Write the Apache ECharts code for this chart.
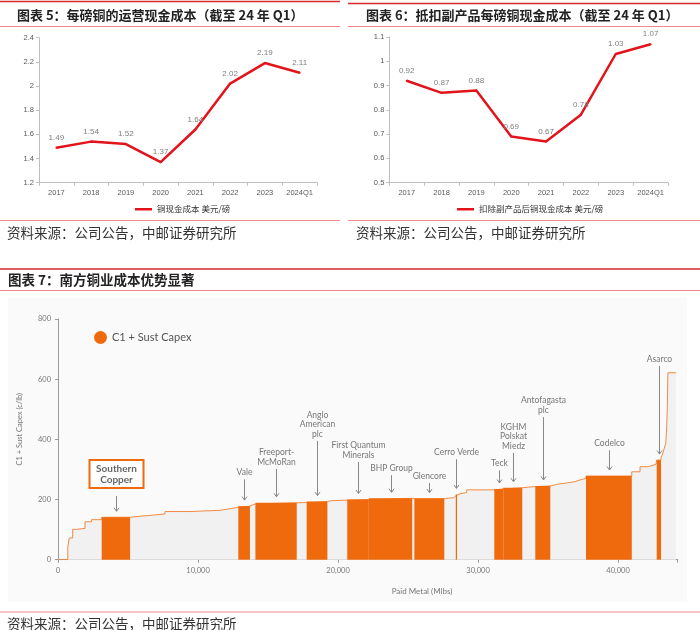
<!DOCTYPE html>
<html><head><meta charset="utf-8">
<script src="https://cdn.jsdelivr.net/npm/echarts@6/dist/echarts.min.js"></script>
<style>html,body{margin:0;padding:0;background:#fff}#c{width:700px;height:630px}</style>
</head><body><div id="c"></div>
<script>
// ---- data ----
const years = ['2017','2018','2019','2020','2021','2022','2023','2024Q1'];
const cashCost = [1.49,1.54,1.52,1.37,1.64,2.02,2.19,2.11];
const netCashCost = [0.92,0.87,0.88,0.69,0.67,0.78,1.03,1.07];
const cashTicks = [1.2,1.4,1.6,1.8,2,2.2,2.4];
const netTicks = [0.5,0.6,0.7,0.8,0.9,1,1.1];

// cost curve: cumulative paid metal (Mlbs) where each step starts, and its cost (c/lb)
const curveX = [0,700,800,1050,1350,1930,2400,3120,5150,6000,6800,7640,9430,10500,11570,11800,12520,12880,13710,13900,14100,17050,17760,19240,19500,20660,22200,25300,25450,27590,28240,28410,28500,28710,29190,31160,31800,33160,33600,34090,35160,35700,36330,36900,37290,37710,40980,41570,42160,42500,42710,42760,43070,43160,43300,43410,43480,43520,43560,44140];
const curveY = [0,41,72,101,104,126,133,141,145,148,152,160,162,164,166,171,174,178,182,185,189,190,193,196,198,200,204,203,203,206,212,217,219,223,232,235,239,241,243,245,251,255,259,265,270,278,292,309,314,317,320,331,340,348,370,387,450,508,621,621];

const companies = ['Southern\nCopper','Vale','Freeport-\nMcMoRan','Anglo\nAmerican\nplc','First Quantum\nMinerals','BHP Group','Glencore','Cerro Verde','Teck','KGHM\nPolskat\nMiedz','Antofagasta\nplc','Codelco','Asarco'];
const blockStart = [3120,12880,14100,17760,20660,22200,25450,28410,31160,31800,34090,37710,42760];
const blockEnd   = [5150,13710,17050,19240,22200,25300,27590,28500,31800,33160,35160,40980,43070];
const blockCost  = [141,178,189,193,200,204,203,217,235,239,245,278,331];
const labelLevel = [285,290,325,418,348,304,278,357,320,378,497,387,667];

const xTicks = [0,10000,20000,30000,40000];
const yTicks = [0,200,400,600,800];

// ---- styles ----
const RED = '#e3131b', ORANGE = '#ef6a0c', ORANGE_LINE = '#f38a42';
const NUM = 'Liberation Sans, Arial, sans-serif';
const CJK = '"Noto Sans CJK SC", sans-serif';
const LAT = 'Lato, "Open Sans", sans-serif';

const chart = echarts.init(document.getElementById('c'), null, {renderer:'canvas'});

function catAxis(idx){
  return {type:'category', gridIndex:idx, data:years, boundaryGap:true,
    axisLine:{lineStyle:{color:'#bfbfbf'}}, axisTick:{show:true, length:3, lineStyle:{color:'#bfbfbf'}},
    axisLabel:{fontSize:7.5, color:'#595959', fontFamily:NUM, margin:6}};
}
function valAxis(idx, ticks, dec){
  return {type:'value', gridIndex:idx, min:ticks[0], max:ticks[ticks.length-1], interval:+(ticks[1]-ticks[0]).toFixed(2),
    axisLine:{show:true, lineStyle:{color:'#bfbfbf'}}, axisTick:{show:true, length:3, lineStyle:{color:'#bfbfbf'}},
    splitLine:{show:false},
    axisLabel:{fontSize:7.5, color:'#595959', fontFamily:NUM, margin:5, formatter:v=>String(+v.toFixed(dec))}};
}
function lineSeries(name, idx, data){
  return {name, type:'line', xAxisIndex:idx, yAxisIndex:idx, data, symbol:'circle', symbolSize:2, showSymbol:true, smooth:false,
    lineStyle:{color:RED, width:2.5}, itemStyle:{color:RED},
    label:{show:true, position:'top', distance:5, color:'#808080', fontSize:8, fontFamily:NUM, formatter:p=>p.value.toFixed(2)}};
}

const option = {
  animation:false,
  backgroundColor:'#fff',
  grid:[
    {left:39, right:383, top:37.7, bottom:447.3},
    {left:389.3, right:32, top:37, bottom:447.3},
    {left:58, right:22.3, top:318.9, bottom:70.3}
  ],
  xAxis:[catAxis(0), catAxis(1),
    {type:'value', gridIndex:2, min:0, max:44260, interval:10000,
     axisLine:{lineStyle:{color:'#9a9a9a'}}, axisTick:{show:true, length:3, lineStyle:{color:'#9a9a9a'}},
     splitLine:{show:false},
     axisLabel:{fontSize:7.5, color:'#777', fontFamily:LAT, margin:7,
       formatter:v=> xTicks.indexOf(v) >= 0 ? v.toLocaleString('en-US') : ''}}],
  yAxis:[valAxis(0, cashTicks, 1), valAxis(1, netTicks, 1),
    {type:'value', gridIndex:2, min:0, max:800, interval:200,
     name:'C1 + Sust Capex (c/lb)', nameLocation:'middle', nameGap:34,
     nameTextStyle:{fontSize:7.5, color:'#777', fontFamily:LAT, padding:[0,0,0,20]},
     axisLine:{show:true, lineStyle:{color:'#9a9a9a'}}, axisTick:{show:true, length:3, lineStyle:{color:'#9a9a9a'}},
     splitLine:{show:false},
     axisLabel:{fontSize:7.5, color:'#777', fontFamily:LAT, margin:7}}],
  legend:[
    {data:['铜现金成本 美元/磅'], left:130, top:200, icon:'rect', itemWidth:17, itemHeight:2.5, itemGap:4,
     textStyle:{fontSize:8.5, color:'#333', fontFamily:CJK}},
    {data:['扣除副产品后铜现金成本 美元/磅'], left:452, top:200, icon:'rect', itemWidth:17, itemHeight:2.5,
     textStyle:{fontSize:8.5, color:'#333', fontFamily:CJK}},
    {data:['C1 + Sust Capex'], left:89, top:326, icon:'circle', itemWidth:13, itemHeight:13,
     textStyle:{fontSize:11, color:'#555', fontFamily:LAT}}
  ],
  series:[
    lineSeries('铜现金成本 美元/磅', 0, cashCost),
    lineSeries('扣除副产品后铜现金成本 美元/磅', 1, netCashCost),
    {name:'curve', type:'line', xAxisIndex:2, yAxisIndex:2, step:'end', symbol:'none', z:2,
     data: curveX.map((x,i)=>[x, curveY[i]]),
     lineStyle:{color:ORANGE_LINE, width:1}, areaStyle:{color:'#f1f1f1', opacity:1}},
    {name:'C1 + Sust Capex', type:'custom', xAxisIndex:2, yAxisIndex:2, z:3,
     itemStyle:{color:ORANGE},
     data: blockStart.map((s,i)=>[s, blockEnd[i], blockCost[i]]),
     encode:{x:[0,1], y:2},
     renderItem:(params, api)=>{
       const p0 = api.coord([api.value(0), api.value(2)]);
       const p1 = api.coord([api.value(1), 0]);
       return {type:'rect', shape:{x:p0[0], y:p0[1], width:p1[0]-p0[0], height:p1[1]-p0[1]}, style:{fill:ORANGE}};
     }},
    {name:'labels', type:'custom', xAxisIndex:2, yAxisIndex:2, z:4, silent:true,
     data: blockStart.map((s,i)=>[(s+blockEnd[i])/2, blockCost[i], labelLevel[i], i]),
     encode:{x:0, y:1},
     renderItem:(params, api)=>{
       const i = api.value(3);
       const pTip = api.coord([api.value(0), api.value(1)]);
       const pLab = api.coord([api.value(0), api.value(2)]);
       const x = Math.round(pTip[0]) + 0.5;
       const children = [];
       let arrowTop;
       if (i === 0) {
         const w = 54, h = 28;
         children.push({type:'rect', shape:{x:x-w/2, y:pLab[1]-h/2, width:w, height:h},
           style:{fill:'#fff', stroke:ORANGE, lineWidth:2}});
         children.push({type:'text', style:{text:companies[i], x:x, y:pLab[1], align:'center', verticalAlign:'middle',
           fontSize:10, lineHeight:11, fontWeight:'bold', fill:'#666', fontFamily:LAT}});
         arrowTop = pLab[1] + h/2 + 8;
       } else {
         children.push({type:'text', style:{text:companies[i], x:x, y:pLab[1]+5, align:'center', verticalAlign:'bottom',
           fontSize:8.5, lineHeight:9.6, fill:'#777', fontFamily:LAT}});
         arrowTop = pLab[1] + 7;
       }
       const tipY = pTip[1] - 6;
       children.push({type:'line', shape:{x1:x, y1:arrowTop, x2:x, y2:tipY}, style:{stroke:'#888', lineWidth:1}});
       children.push({type:'polyline', shape:{points:[[x-2.5, tipY-3.5],[x, tipY],[x+2.5, tipY-3.5]]},
         style:{stroke:'#888', lineWidth:1, fill:null}});
       return {type:'group', children};
     }}
  ],
  graphic:[
    {type:'rect', z:-10, shape:{x:8, y:298, width:679, height:304}, style:{fill:'#fafafa'}},
    {type:'line', shape:{x1:0, y1:1.5, x2:340, y2:1.5}, style:{stroke:'#d7282f', lineWidth:1.3}},
    {type:'line', shape:{x1:348, y1:3.5, x2:700, y2:3.5}, style:{stroke:'#d7282f', lineWidth:1.3}},
    {type:'line', shape:{x1:0, y1:26.5, x2:340, y2:26.5}, style:{stroke:'#ee8a8a', lineWidth:1}},
    {type:'line', shape:{x1:348, y1:26.5, x2:700, y2:26.5}, style:{stroke:'#ee8a8a', lineWidth:1}},
    {type:'line', shape:{x1:0, y1:220.5, x2:340, y2:220.5}, style:{stroke:'#ee8a8a', lineWidth:1}},
    {type:'line', shape:{x1:348, y1:220.5, x2:700, y2:220.5}, style:{stroke:'#ee8a8a', lineWidth:1}},
    {type:'line', shape:{x1:0, y1:269, x2:700, y2:269}, style:{stroke:'#d7282f', lineWidth:1.5}},
    {type:'line', shape:{x1:0, y1:290.5, x2:700, y2:290.5}, style:{stroke:'#ee8a8a', lineWidth:1}},
    {type:'line', shape:{x1:0, y1:612, x2:700, y2:612}, style:{stroke:'#ee8a8a', lineWidth:1}},
    {type:'text', style:{text:'图表 5：每磅铜的运营现金成本（截至 24 年 Q1）', x:17, y:15, verticalAlign:'middle',
      fontSize:13, fontWeight:'bold', fill:'#222', fontFamily:CJK}},
    {type:'text', style:{text:'图表 6：抵扣副产品每磅铜现金成本（截至 24 年 Q1）', x:366, y:15, verticalAlign:'middle',
      fontSize:13, fontWeight:'bold', fill:'#222', fontFamily:CJK}},
    {type:'text', style:{text:'图表 7：南方铜业成本优势显著', x:8, y:280, verticalAlign:'middle',
      fontSize:13.5, fontWeight:'bold', fill:'#222', fontFamily:CJK}},
    {type:'text', style:{text:'资料来源：公司公告，中邮证券研究所', x:7, y:233, verticalAlign:'middle',
      fontSize:13.5, fill:'#333', fontFamily:CJK}},
    {type:'text', style:{text:'资料来源：公司公告，中邮证券研究所', x:356, y:233, verticalAlign:'middle',
      fontSize:13.5, fill:'#333', fontFamily:CJK}},
    {type:'text', style:{text:'资料来源：公司公告，中邮证券研究所', x:7, y:624, verticalAlign:'middle',
      fontSize:13.5, fill:'#333', fontFamily:CJK}},
    {type:'text', style:{text:'Paid Metal (Mlbs)', x:422, y:591, align:'center', verticalAlign:'middle',
      fontSize:8, fill:'#777', fontFamily:LAT}}
  ]
};
chart.setOption(option);
</script>
</body></html>
